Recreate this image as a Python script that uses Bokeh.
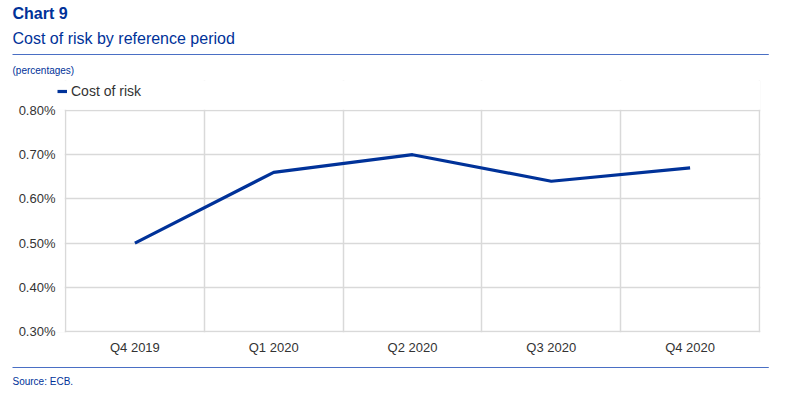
from bokeh.plotting import figure
from bokeh.models import (Range1d, FixedTicker, PrintfTickFormatter, Title, Legend, LegendItem,
                          BoxAnnotation)
from bokeh.embed import file_html
from bokeh.resources import INLINE

categories = ["Q4 2019", "Q1 2020", "Q2 2020", "Q3 2020", "Q4 2020"]
cost_of_risk = [0.50, 0.66, 0.70, 0.64, 0.67]
y_ticks = [0.30, 0.40, 0.50, 0.60, 0.70, 0.80]

chart_no = "Chart 9"
chart_title = "Cost of risk by reference period"
unit_note = "(percentages)"
source_note = "Source: ECB."
series_name = "Cost of risk"

BLUE = "#003299"
RULE = "#4a6fc4"
FONT = "Liberation Sans"
TXT = "#333333"
GRID = "#d9d9d9"

# layout (pixels)
PLOT_W, PLOT_H = 694, 221          # grid area
PAD_L, PAD_R = 10, 1                # frame room left of / right of the grid area
TOP_BAND, PAD_B = 30, 1             # legend band above the grid area
n = len(categories)
kx = n / PLOT_W
ky = (y_ticks[-1] - y_ticks[0]) / PLOT_H
FRAME_W = PLOT_W + PAD_L + PAD_R
FRAME_H = PLOT_H + TOP_BAND + PAD_B
LEFT, TOP = 55, 80

xs = [i + 0.5 for i in range(n)]
p = figure(width=784, height=389, frame_width=FRAME_W, frame_height=FRAME_H, title=None,
           min_border_left=LEFT, min_border_right=784 - LEFT - FRAME_W,
           min_border_top=TOP, min_border_bottom=389 - TOP - FRAME_H,
           x_range=Range1d(-PAD_L * kx, n + PAD_R * kx),
           y_range=Range1d(y_ticks[0] - PAD_B * ky, y_ticks[-1] + TOP_BAND * ky),
           output_backend="svg", toolbar_location=None, outline_line_color=None)

r = p.line(xs, cost_of_risk, line_color=BLUE, line_width=3.2)

p.xaxis.ticker = FixedTicker(ticks=xs)
p.xaxis.major_label_overrides = {x: c for x, c in zip(xs, categories)}
p.yaxis.ticker = FixedTicker(ticks=y_ticks)
p.yaxis.formatter = PrintfTickFormatter(format="%.2f%%")
for ax in (p.xaxis[0], p.yaxis[0]):
    ax.axis_line_color = None
    ax.major_tick_line_color = None
    ax.minor_tick_line_color = None
    ax.major_tick_out = 0
    ax.major_tick_in = 0
    ax.minor_tick_out = 0
    ax.minor_tick_in = 0
    ax.major_label_text_font = FONT
    ax.major_label_text_font_size = "13px"
    ax.major_label_text_color = TXT
p.xaxis.major_label_standoff = 7
p.yaxis.major_label_standoff = 0

p.xgrid.ticker = FixedTicker(ticks=list(range(n + 1)))
p.ygrid.ticker = FixedTicker(ticks=y_ticks)
for g in (p.xgrid[0], p.ygrid[0]):
    g.grid_line_color = GRID
    g.grid_line_width = 1.5

# keep the grid inside the category area (white masks over the legend band / left strip)
grid_top = FRAME_H - TOP_BAND          # screen px of the top grid line above frame bottom
p.add_layout(BoxAnnotation(bottom=grid_top + 0.8, bottom_units="screen",
                           fill_color="white", fill_alpha=1, line_color=None))
p.add_layout(BoxAnnotation(right=PAD_L - 0.8, right_units="screen",
                           top=grid_top + 0.8, top_units="screen",
                           fill_color="white", fill_alpha=1, line_color=None))

legend = Legend(items=[LegendItem(label=series_name, renderers=[r])],
                location=(2, FRAME_H - 3 - 16), orientation="horizontal",
                background_fill_alpha=0, border_line_color=None,
                label_text_font=FONT, label_text_font_size="14px", label_text_color=TXT,
                glyph_width=10, glyph_height=16, padding=0, margin=0, label_standoff=4,
                label_height=16)
p.add_layout(legend, "center")


def title(text, size, standoff, valign="middle", bold=False):
    return Title(text=text, align="left", offset=-(LEFT - 12), text_font=FONT,
                 text_font_size=size, text_color=BLUE,
                 text_font_style="bold" if bold else "normal",
                 vertical_align=valign, standoff=standoff)


def rule(standoff, valign):
    return Title(text=" ", align="left", offset=-(LEFT - 12), text_font=FONT,
                 text_font_size="1px", vertical_align=valign, standoff=standoff,
                 background_fill_color=RULE, background_fill_alpha=1,
                 padding=dict(left=0, right=756, top=0, bottom=0))


# above the frame (first added = nearest to the frame)
p.add_layout(title(unit_note, "10px", 7), "above")
p.add_layout(rule(7, "top"), "above")
p.add_layout(title(chart_title, "16px", 6), "above")
p.add_layout(title(chart_no, "16px", 5, bold=True), "above")

# below the frame
p.add_layout(rule(15, "bottom"), "below")
p.add_layout(title(source_note, "10px", 0, valign="top"), "below")

open("out.html", "w").write(file_html(p, INLINE))
